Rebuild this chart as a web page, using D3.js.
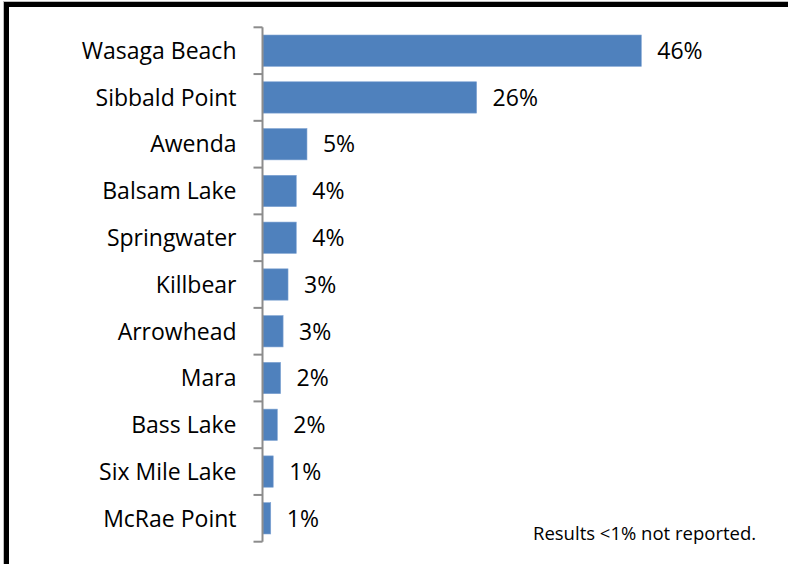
<!DOCTYPE html>
<html>
<head>
<meta charset="utf-8">
<script src="https://cdn.jsdelivr.net/npm/d3@7"></script>
<style>
  html, body { margin: 0; padding: 0; background: #fff; overflow: hidden; }
  svg { display: block; font-family: "Open Sans", sans-serif; }
</style>
</head>
<body>
<svg id="chart" width="788" height="564"></svg>
<script>
const categories = ["Wasaga Beach", "Sibbald Point", "Awenda", "Balsam Lake", "Springwater", "Killbear", "Arrowhead", "Mara", "Bass Lake", "Six Mile Lake", "McRae Point"];
const values = [46, 26, 5.4, 4.1, 4.1, 3.1, 2.5, 2.2, 1.8, 1.3, 1.0];
const valueLabels = ["46%", "26%", "5%", "4%", "4%", "3%", "3%", "2%", "2%", "1%", "1%"];
const footnote = "Results <1% not reported.";

const svg = d3.select("#chart");

// outer frame (only top and left edges visible)
svg.append("rect").attr("x", 3.5).attr("y", 1.5).attr("width", 900).attr("height", 700)
  .attr("fill", "none").attr("stroke", "#bdbdbd").attr("stroke-width", 1);
svg.append("rect").attr("x", 6.5).attr("y", 4.5).attr("width", 900).attr("height", 700)
  .attr("fill", "none").attr("stroke", "#000").attr("stroke-width", 5);

const axisX = 262.5;
const x = d3.scaleLinear().domain([0, 46]).range([axisX, 641.3]);
const y = d3.scaleBand().domain(categories).range([27.3, 541.7])
  .paddingInner(0.33).paddingOuter(0.165);

const g = svg.append("g");

// bars
g.selectAll("rect.bar").data(categories).join("rect")
  .attr("class", "bar")
  .attr("x", x(0) + 0.5)
  .attr("y", d => y(d))
  .attr("width", (d, i) => x(values[i]) - x(0) - 0.5)
  .attr("height", y.bandwidth())
  .attr("fill", "#4f81bd")
  .attr("stroke", "#7fa3d3").attr("stroke-width", 0.6);

// axis line + ticks at band boundaries
const step = y.step();
const tickYs = d3.range(categories.length + 1).map(i => y.range()[0] + i * step);
g.append("line").attr("x1", axisX).attr("x2", axisX)
  .attr("y1", tickYs[0]).attr("y2", tickYs[tickYs.length - 1])
  .attr("stroke", "#8c8c8c").attr("stroke-width", 2);
g.selectAll("line.tick").data(tickYs).join("line")
  .attr("class", "tick")
  .attr("x1", axisX - 9).attr("x2", axisX)
  .attr("y1", d => d).attr("y2", d => d)
  .attr("stroke", "#8c8c8c").attr("stroke-width", 2);

// category labels
g.selectAll("text.cat").data(categories).join("text")
  .attr("class", "cat")
  .attr("x", 236.5)
  .attr("y", d => y(d) + y.bandwidth() / 2)
  .attr("dy", "0.36em")
  .attr("text-anchor", "end")
  .attr("font-size", 23)
  .attr("fill", "#000")
  .text(d => d);

// value labels
g.selectAll("text.val").data(categories).join("text")
  .attr("class", "val")
  .attr("x", (d, i) => x(values[i]) + 16)
  .attr("y", d => y(d) + y.bandwidth() / 2)
  .attr("dy", "0.36em")
  .attr("font-size", 23)
  .attr("fill", "#000")
  .text((d, i) => valueLabels[i]);

// footnote
svg.append("text")
  .attr("x", 533).attr("y", 539.5)
  .attr("font-size", 18.5)
  .attr("fill", "#000")
  .text(footnote);
</script>
</body>
</html>
